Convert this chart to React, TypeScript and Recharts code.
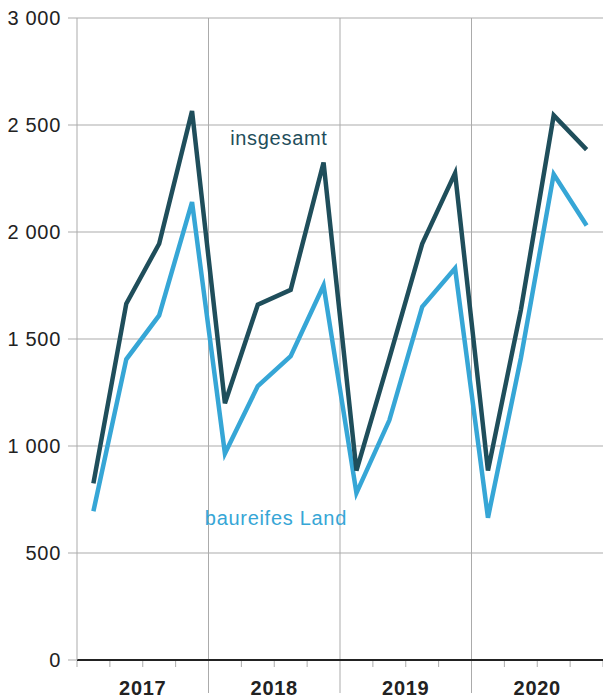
import React from 'react';
import { LineChart, Line, XAxis, YAxis, CartesianGrid, ReferenceLine, ReferenceDot } from 'recharts';

const years = ['2017', '2018', '2019', '2020'];
const quarters = [
  '2017 Q1', '2017 Q2', '2017 Q3', '2017 Q4',
  '2018 Q1', '2018 Q2', '2018 Q3', '2018 Q4',
  '2019 Q1', '2019 Q2', '2019 Q3', '2019 Q4',
  '2020 Q1', '2020 Q2', '2020 Q3', '2020 Q4',
];
const insgesamt = [825, 1665, 1945, 2565, 1200, 1660, 1730, 2325, 885, 1410, 1945, 2275, 885, 1635, 2545, 2385];
const baureifesLand = [695, 1405, 1610, 2140, 965, 1280, 1420, 1750, 780, 1120, 1650, 1830, 665, 1410, 2270, 2030];
const yTicks = [0, 500, 1000, 1500, 2000, 2500, 3000];
// quarter boundaries on the helper axis, year boundaries every 4
const boundaryTicks = [0, 1, 2, 3, 4, 5, 6, 7, 8, 9, 10, 11, 12, 13, 14, 15, 16];
const yearBoundaries = [4, 8, 12];

const DARK = '#1f4e5b';
const LIGHT = '#36a6d6';
const GRID = '#ababab';
const FONT = '"Liberation Sans", Arial, sans-serif';
const FS = 20;
const LS = 0.7;

const data = quarters.map((q, i) => ({
  q,
  insgesamt: insgesamt[i],
  baureifesLand: baureifesLand[i],
}));

const fmt = (v: number) => String(v).replace(/\B(?=(\d{3})+(?!\d))/g, ' ');

const BottomTick = (props: any) => {
  const { x, y, payload } = props;
  const v = payload.value as number;
  const isYearLine = yearBoundaries.includes(v);
  const label = v % 4 === 2 ? years[(v - 2) / 4] : null;
  return (
    <g>
      <line x1={x} x2={x} y1={y + 1} y2={y + (isYearLine ? 33 : 7)} stroke={GRID} strokeWidth={1} />
      {label && (
        <text
          x={x}
          y={y + 35}
          textAnchor="middle"
          fontFamily={FONT}
          fontSize={FS}
          letterSpacing={LS}
          fontWeight="bold"
          fill="#222"
        >
          {label}
        </text>
      )}
    </g>
  );
};

const App: React.FC = () => {
  return (
    <div style={{ position: 'absolute', left: 0, top: 0, background: '#fff' }}>
      <LineChart width={603} height={699} data={data} margin={{ top: 18, right: 0, left: 0, bottom: 0 }}>
        <CartesianGrid vertical={false} stroke={GRID} strokeWidth={1} />
        <XAxis dataKey="q" hide height={0} padding={{ left: 16.4, right: 16.4 }} />
        <XAxis
          xAxisId="num"
          type="number"
          dataKey={() => 8}
          domain={[0, 16]}
          allowDataOverflow
          ticks={boundaryTicks}
          interval={0}
          height={39}
          tickSize={0}
          tickMargin={0}
          tickLine={false}
          axisLine={{ stroke: '#222', strokeWidth: 2 }}
          tick={<BottomTick />}
        />
        <YAxis
          width={77}
          domain={[0, 3000]}
          ticks={yTicks}
          tickFormatter={fmt}
          axisLine={{ stroke: GRID }}
          tickLine={{ stroke: GRID }}
          tickSize={9}
          tickMargin={7}
          tick={{ fill: '#222', fontSize: FS, fontFamily: FONT, letterSpacing: LS }}
        />
        {yearBoundaries.map((b) => (
          <ReferenceLine key={b} xAxisId="num" x={b} stroke={GRID} strokeWidth={1} />
        ))}
        <Line
          dataKey="baureifesLand"
          stroke={LIGHT}
          strokeWidth={4.5}
          strokeLinejoin="miter"
          dot={false}
          isAnimationActive={false}
        />
        <Line
          dataKey="insgesamt"
          stroke={DARK}
          strokeWidth={4.5}
          strokeLinejoin="miter"
          dot={false}
          isAnimationActive={false}
        />
        <ReferenceDot
          xAxisId="num"
          x={6.14}
          y={2440}
          r={0}
          fill="none"
          stroke="none"
          label={{ value: 'insgesamt', position: 'center', fill: DARK, fontSize: FS, fontFamily: FONT, letterSpacing: LS }}
        />
        <ReferenceDot
          xAxisId="num"
          x={6.05}
          y={663}
          r={0}
          fill="none"
          stroke="none"
          label={{ value: 'baureifes Land', position: 'center', fill: LIGHT, fontSize: FS, fontFamily: FONT, letterSpacing: LS }}
        />
      </LineChart>
    </div>
  );
};

export default App;
